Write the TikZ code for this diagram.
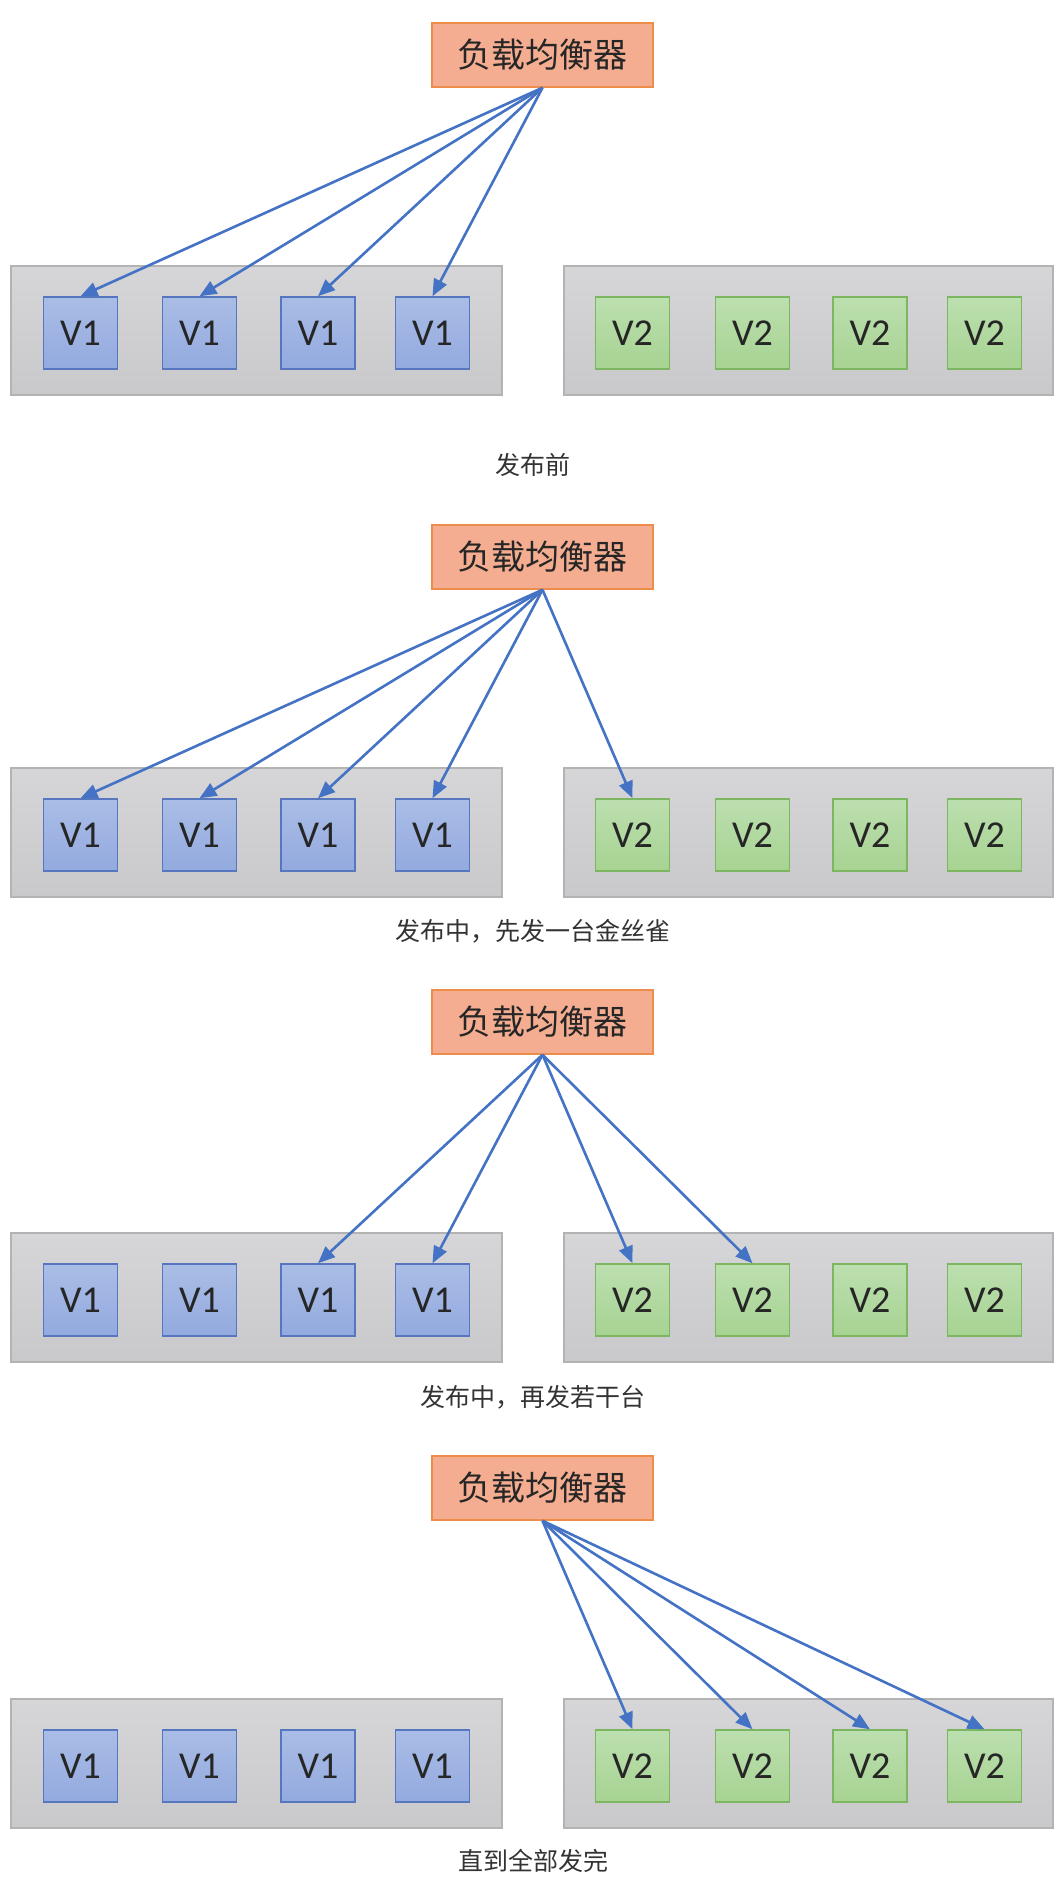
\documentclass[tikz,border=0pt]{standalone}
\usepackage{fontspec}
\setmainfont{Carlito}
\newfontfamily\cjk{Noto Sans CJK SC}
\usetikzlibrary{arrows.meta}
\definecolor{lbfill}{HTML}{F4AD90}
\definecolor{lbline}{HTML}{EE8C4C}
\definecolor{grptop}{HTML}{D6D6D8}
\definecolor{grpbot}{HTML}{C9C9CB}
\definecolor{grpline}{HTML}{B3B3B3}
\definecolor{vonetop}{HTML}{AABDE6}
\definecolor{vonebot}{HTML}{93AADF}
\definecolor{voneline}{HTML}{5677C0}
\definecolor{vtwotop}{HTML}{BCDFAF}
\definecolor{vtwobot}{HTML}{A7D392}
\definecolor{vtwoline}{HTML}{7DB660}
\definecolor{arrowblue}{HTML}{4472C4}
\definecolor{captext}{HTML}{333333}
\begin{document}
\begin{tikzpicture}[x=1pt,y=-1pt,
  lbbox/.style={draw=lbline, fill=lbfill, line width=1.5pt, minimum width=221pt,
    minimum height=64pt, inner sep=0pt, font=\cjk\fontsize{34}{40}\selectfont, text=black!85},
  grp/.style={draw=grpline, top color=grptop, bottom color=grpbot, line width=1.5pt,
    minimum height=129pt, inner sep=0pt},
  vone/.style={draw=voneline, top color=vonetop, bottom color=vonebot, line width=1.5pt,
    minimum width=74pt, minimum height=72pt, inner sep=0pt,
    font=\fontsize{38}{40}\selectfont, text=black!85},
  vtwo/.style={vone, draw=vtwoline, top color=vtwotop, bottom color=vtwobot},
  captxt/.style={font=\cjk\fontsize{25}{30}\selectfont, text=captext},
  lnk/.style={draw=arrowblue, line width=2.6pt, -{Triangle[length=17pt,width=14pt]}}
]
\useasboundingbox[fill=white] (0,0) rectangle (1064,1896);

\foreach \s/\b in {1/0,2/502,3/967,4/1433}{
  \node[lbbox] (lb\s) at (542.5,55+\b) {负载均衡器};
  \node[grp, minimum width=491pt] (gl\s) at (256.5,330.5+\b) {};
  \node[grp, minimum width=489pt] (gr\s) at (808.5,330.5+\b) {};
  \foreach \i/\x in {1/80.5,2/199.5,3/318,4/432.5}
    \node[vone] (p\s\i) at (\x,333+\b) {V1};
  \foreach \i/\x in {1/632.5,2/752.5,3/870,4/984.5}
    \node[vtwo] (q\s\i) at (\x,333+\b) {V2};
}

\node[captxt] (c1) at (533,465) {发布前};
\node[captxt] (c2) at (533,931) {发布中，先发一台金丝雀};
\node[captxt] (c3) at (533,1397) {发布中，再发若干台};
\node[captxt] (c4) at (533,1861) {直到全部发完};

% section 1
\foreach \i in {1,2,3,4} \draw[lnk] (lb1.south) -- (p1\i.north);
% section 2
\foreach \i in {1,2,3,4} \draw[lnk] (lb2.south) -- (p2\i.north);
\draw[lnk] (lb2.south) -- (q21.north);
% section 3
\foreach \i in {3,4} \draw[lnk] (lb3.south) -- (p3\i.north);
\foreach \i in {1,2} \draw[lnk] (lb3.south) -- (q3\i.north);
% section 4
\foreach \i in {1,2,3,4} \draw[lnk] (lb4.south) -- (q4\i.north);
\end{tikzpicture}
\end{document}
